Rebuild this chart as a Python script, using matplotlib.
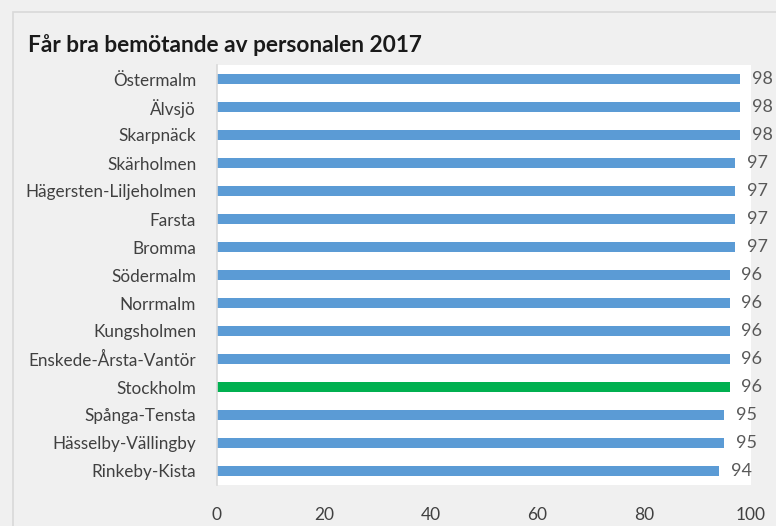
import matplotlib.pyplot as plt
from matplotlib.patches import Rectangle

plt.rcParams['font.family'] = ['Lato', 'DejaVu Sans']

omraden = ['Östermalm', 'Älvsjö', 'Skarpnäck', 'Skärholmen', 'Hägersten-Liljeholmen',
           'Farsta', 'Bromma', 'Södermalm', 'Norrmalm', 'Kungsholmen',
           'Enskede-Årsta-Vantör', 'Stockholm', 'Spånga-Tensta', 'Hässelby-Vällingby',
           'Rinkeby-Kista']
varden = [98, 98, 98, 97, 97, 97, 97, 96, 96, 96, 96, 96, 95, 95, 94]

fig = plt.figure(figsize=(7.76, 5.26), dpi=100)
fig.patch.set_facecolor('#f0f0f0')
# ram runt diagrammet
fig.patches.append(Rectangle((13 / 776, -0.1), 1.0, (526 - 12) / 526 + 0.1,
                             transform=fig.transFigure, fill=False,
                             edgecolor='#d9d9d9', linewidth=1.2))

ax = fig.add_axes([217 / 776, 1 - 485 / 526, 534 / 776, 420 / 526])
ax.set_facecolor('white')

farger = ['#00b050' if o == 'Stockholm' else '#5b9bd5' for o in omraden]
pos = list(range(len(omraden)))
ax.barh(pos, varden, height=0.36, color=farger)

for p, v in zip(pos, varden):
    ax.text(v + 2.2, p, str(v), va='center', ha='left', fontsize=13,
            color='#595959', clip_on=False)

ax.set_xlim(0, 100)
ax.set_ylim(len(omraden) - 0.5, -0.5)
ax.set_yticks(pos)
ax.set_yticklabels(omraden, fontsize=12.3, color='#404040')
ax.set_xticks([0, 20, 40, 60, 80, 100])
ax.tick_params(axis='x', length=0, labelsize=12.5, labelcolor='#404040', pad=16)
ax.tick_params(axis='y', length=0, pad=15)

for s in ['top', 'right', 'bottom']:
    ax.spines[s].set_visible(False)
ax.spines['left'].set_color('#d9d9d9')
ax.spines['left'].set_linewidth(1.2)

fig.text(28 / 776, 1 - 45 / 526, 'Får bra bemötande av personalen 2017',
         fontsize=16.3, fontweight='bold', color='#1a1a1a', va='center', ha='left')

fig.savefig('out.png', dpi=100, facecolor=fig.get_facecolor())
